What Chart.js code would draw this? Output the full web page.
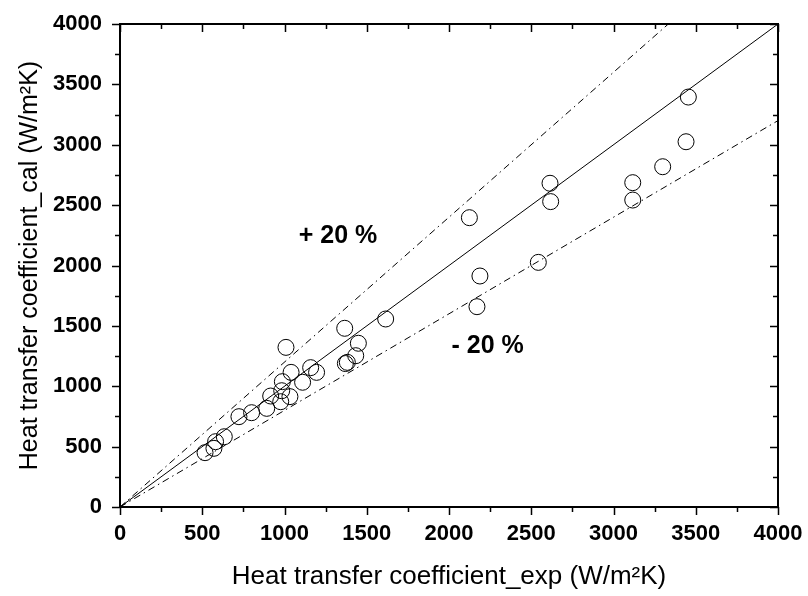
<!DOCTYPE html>
<html>
<head>
<meta charset="utf-8">
<script src="https://cdn.jsdelivr.net/npm/chart.js@4.4.0/dist/chart.umd.min.js"></script>
<style>
  html, body { margin: 0; padding: 0; background: #fff; }
  #wrap { width: 808px; height: 596px; }
</style>
</head>
<body>
<div id="wrap"><canvas id="myChart" width="808" height="596"></canvas></div>
<script>
// measured (exp) vs calculated heat transfer coefficient
const hExp = [3455, 3441, 3299, 3117, 3117, 2614, 2618, 2124, 2543, 2188, 2170, 1615, 1366, 1449, 1433, 1382, 1370,
              1009, 1040, 1159, 1195, 1110, 987, 983, 1033, 977, 916, 892, 800, 723, 634, 581, 571, 517];
const hCal = [3395, 3025, 2818, 2686, 2542, 2681, 2529, 2396, 2026, 1913, 1659, 1557, 1480, 1356, 1253, 1198, 1188,
              1322, 1115, 1154, 1115, 1033, 1038, 963, 914, 872, 919, 817, 781, 748, 582, 541, 486, 450];

// reference lines
const lineX = [0, 4000];
const lineY = [0, 4000];
const plusX = [0, 3333.3];
const plusY = [0, 4000];
const minusX = [0, 4000];
const minusY = [0, 3200];

const ticksMajor = [0, 500, 1000, 1500, 2000, 2500, 3000, 3500, 4000];

const toXY = (xs, ys) => xs.map((x, i) => ({ x: x, y: ys[i] }));

const fontFamily = "'Liberation Sans', Arial, sans-serif";

const framePlugin = {
    id: "frame",
    afterDraw(chart) {
        const ctx = chart.ctx;
        const a = chart.chartArea;
        const xs = chart.scales.x;
        const ys = chart.scales.y;
        ctx.save();
        ctx.strokeStyle = "#000";
        ctx.lineWidth = 2;
        ctx.strokeRect(a.left, a.top, a.right - a.left, a.bottom - a.top);
        ctx.lineWidth = 1.5;
        ctx.beginPath();
        for (let v = 0; v <= 4000; v += 250) {
            const major = v % 500 === 0;
            const len = major ? 8 : 5;
            const px = Math.round(xs.getPixelForValue(v)) + 0.5;
            const py = Math.round(ys.getPixelForValue(v)) + 0.5;
            // bottom, outward
            ctx.moveTo(px, a.bottom);
            ctx.lineTo(px, a.bottom + len);
            // top, inward
            ctx.moveTo(px, a.top);
            ctx.lineTo(px, a.top + len);
            // left, outward
            ctx.moveTo(a.left, py);
            ctx.lineTo(a.left - len, py);
            // right, inward
            ctx.moveTo(a.right, py);
            ctx.lineTo(a.right - len, py);
        }
        ctx.stroke();

        ctx.fillStyle = "#000";
        ctx.font = "bold 25px " + fontFamily;
        ctx.textAlign = "center";
        ctx.textBaseline = "middle";
        ctx.fillText("+ 20 %", xs.getPixelForValue(1325), ys.getPixelForValue(2245));
        ctx.fillText("- 20 %", xs.getPixelForValue(2235), ys.getPixelForValue(1335));
        ctx.restore();
    },
};

const ctx = document.getElementById("myChart").getContext("2d");

const chart = new Chart(ctx, {
    type: "scatter",
    data: {
        datasets: [
            {
                label: "data",
                data: toXY(hExp, hCal),
                pointRadius: 8,
                pointHoverRadius: 8,
                pointBorderWidth: 1,
                pointBorderColor: "#000",
                pointBackgroundColor: "rgba(0,0,0,0)",
                showLine: false,
            },
            {
                label: "1:1",
                data: toXY(lineX, lineY),
                showLine: true,
                borderColor: "#000",
                borderWidth: 1,
                pointRadius: 0,
            },
            {
                label: "+20%",
                data: toXY(plusX, plusY),
                showLine: true,
                borderColor: "#000",
                borderWidth: 1,
                borderDash: [7, 4, 1.5, 4],
                pointRadius: 0,
            },
            {
                label: "-20%",
                data: toXY(minusX, minusY),
                showLine: true,
                borderColor: "#000",
                borderWidth: 1,
                borderDash: [7, 4, 1.5, 4],
                pointRadius: 0,
            },
        ],
    },
    options: {
        responsive: false,
        animation: false,
        layout: { padding: { top: 24, right: 30, left: 0, bottom: 0 } },
        plugins: {
            legend: { display: false },
            tooltip: { enabled: false },
        },
        scales: {
            x: {
                type: "linear",
                min: 0,
                max: 4000,
                afterFit: (s) => { s.height = 89; s.paddingLeft = 0; s.paddingRight = 0; },
                afterBuildTicks: (s) => { s.ticks = ticksMajor.map((v) => ({ value: v })); },
                grid: { display: false },
                border: { display: false },
                ticks: {
                    color: "#000",
                    padding: 6,
                    maxRotation: 0,
                    callback: (v) => String(v),
                    font: { family: fontFamily, size: 22, weight: "bold" },
                },
                title: {
                    display: true,
                    text: "Heat transfer coefficient_exp (W/m\u00b2K)",
                    color: "#000",
                    font: { family: fontFamily, size: 26 },
                    padding: { top: 12 },
                },
            },
            y: {
                type: "linear",
                min: 0,
                max: 4000,
                afterFit: (s) => { s.width = 120; s.paddingTop = 0; s.paddingBottom = 0; },
                afterBuildTicks: (s) => { s.ticks = ticksMajor.map((v) => ({ value: v })); },
                grid: { display: false },
                border: { display: false },
                ticks: {
                    color: "#000",
                    padding: 10,
                    callback: (v) => String(v),
                    font: { family: fontFamily, size: 22, weight: "bold" },
                },
                title: {
                    display: true,
                    text: "Heat transfer coefficient_cal (W/m\u00b2K)",
                    color: "#000",
                    font: { family: fontFamily, size: 25 },
                    padding: { top: 15, bottom: 0 },
                },
            },
        },
    },
    plugins: [framePlugin],
});
</script>
</body>
</html>
